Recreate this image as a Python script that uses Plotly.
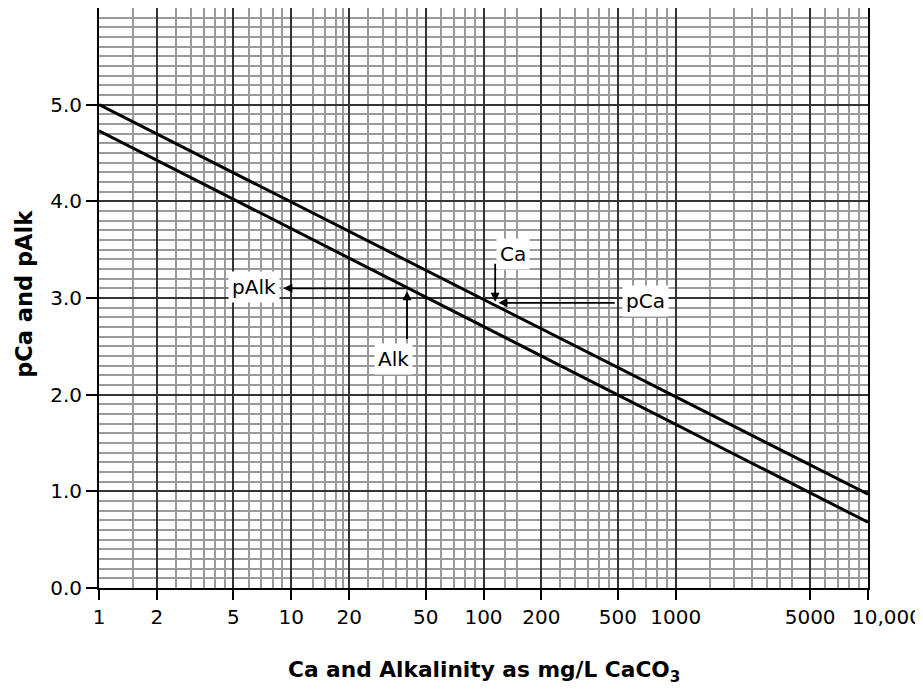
import numpy as np
import plotly.graph_objects as go

# ---- data ----
conc = [1, 10000]                 # Ca / Alkalinity, mg/L as CaCO3
pca = [5.0, 0.97]                 # pCa line
palk = [4.73, 0.68]               # pAlk line

x_tickvals = [1, 2, 5, 10, 20, 50, 100, 200, 500, 1000, 5000, 10000]
x_ticktext = ["1", "2", "5", "10", "20", "50", "100", "200", "500", "1000", "5000", "10,000"]
x_minorvals = [1.5, 2.5, 3, 3.5, 4, 4.5, 6, 7, 8, 9,
               13, 15, 17, 18.5, 25, 30, 35, 40, 45, 60, 70, 80, 90,
               130, 150, 250, 300, 350, 400, 450, 600, 700, 800, 900,
               1500, 2000, 2500, 3000, 3500, 4000, 6000, 7000, 8000, 9000]
y_tickvals = [0, 1, 2, 3, 4, 5]
y_ticktext = ["0.0", "1.0", "2.0", "3.0", "4.0", "5.0"]

x_title = "<b>Ca and Alkalinity as mg/L CaCO<sub>3</sub></b>"
y_title = "<b>pCa and pAlk</b>"

# worked example
ex_ca, ex_pca = 115, 2.96
ex_alk, ex_palk = 40, 3.1

FONT = "DejaVu Sans"

fig = go.Figure()
fig.add_trace(go.Scatter(x=conc, y=pca, mode="lines",
                         line=dict(color="black", width=3), showlegend=False))
fig.add_trace(go.Scatter(x=conc, y=palk, mode="lines",
                         line=dict(color="black", width=3), showlegend=False))

L = np.log10
arrow = dict(showarrow=True, arrowhead=2, arrowsize=1, arrowwidth=1.8,
             arrowcolor="black", axref="x", ayref="y", xref="x", yref="y", text="")
annotations = [
    dict(x=L(9.1), y=ex_palk, ax=L(ex_alk), ay=ex_palk, **arrow),
    dict(x=L(ex_alk), y=ex_palk - 0.03, ax=L(ex_alk), ay=2.56, **arrow),
    dict(x=L(ex_ca), y=ex_pca, ax=L(ex_ca), ay=3.37, **arrow),
    dict(x=L(ex_ca * 1.04), y=ex_pca - 0.01, ax=L(490), ay=ex_pca - 0.01, **arrow),
]
lab = dict(showarrow=False, bgcolor="white", borderpad=3, xref="x", yref="y",
           font=dict(family=FONT, size=20, color="black"))
annotations += [
    dict(text="pAlk", x=L(6.4), y=3.11, **lab),
    dict(text="Alk", x=L(34), y=2.37, **lab),
    dict(text="Ca", x=L(143), y=3.46, **lab),
    dict(text="pCa", x=L(700), y=2.97, **lab),
    dict(text=x_title, xref="paper", yref="paper", x=0.5007, y=-0.1446,
         xanchor="center", yanchor="middle", showarrow=False,
         font=dict(family=FONT, size=21.7, color="black")),
    dict(text=y_title, xref="paper", yref="paper", x=-0.097, y=0.508,
         xanchor="center", yanchor="middle", showarrow=False, textangle=-90,
         font=dict(family=FONT, size=22.5, color="black")),
    # last x tick label sits right of its tick in the original
    dict(text=x_ticktext[-1], xref="paper", yref="paper", x=1.0, y=-0.0499,
         xanchor="left", xshift=-18, yanchor="middle", showarrow=False,
         font=dict(family=FONT, size=20, color="black")),
]

# page body adds ~8px offset; compensate in size/margins
fig.update_layout(
    width=915, height=681,
    margin=dict(l=91, r=55, t=0, b=101),
    paper_bgcolor="white", plot_bgcolor="white",
    font=dict(family=FONT, size=20, color="black"),
    annotations=annotations,
)
fig.update_xaxes(
    type="log", range=[0, 4], automargin=False,
    tickmode="array", tickvals=x_tickvals, ticktext=x_ticktext[:-1] + [""], tickangle=0,
    ticks="outside", ticklen=10, tickwidth=1.5, tickcolor="black",
    showgrid=True, gridcolor="#333333", gridwidth=1.5,
    minor=dict(tickmode="array", tickvals=x_minorvals, showgrid=True,
               gridcolor="#9a9a9a", gridwidth=1.5, ticks=""),
    showline=True, linecolor="black", linewidth=2, mirror=True,
    zeroline=False,
)
fig.update_yaxes(
    range=[0, 6], automargin=False,
    tickmode="array", tickvals=y_tickvals, ticktext=y_ticktext,
    ticks="outside", ticklen=11, tickwidth=1.5, tickcolor="black",
    showgrid=True, gridcolor="#333333", gridwidth=1.5,
    minor=dict(dtick=0.1, showgrid=True, gridcolor="#9a9a9a", gridwidth=1.5, ticks=""),
    showline=True, linecolor="black", linewidth=2, mirror=True,
    zeroline=False,
)

fig.write_html("out.html")
